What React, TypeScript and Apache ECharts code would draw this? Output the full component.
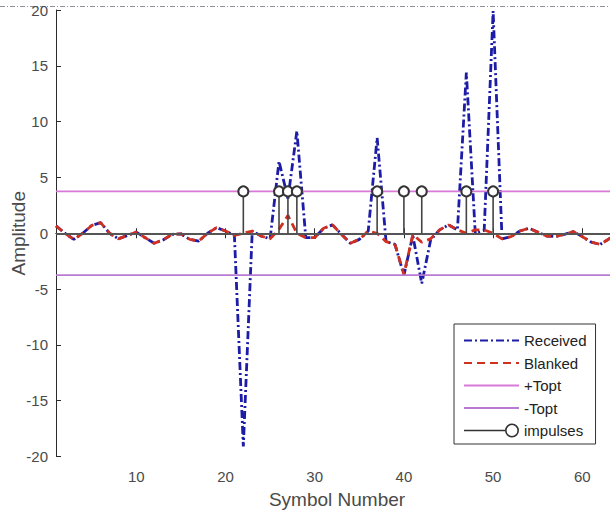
import React, { useEffect, useRef } from "react";
import * as echarts from "echarts";

// Symbol numbers 1..64
const symbolNumbers = [
  1, 2, 3, 4, 5, 6, 7, 8, 9, 10, 11, 12, 13, 14, 15, 16, 17, 18, 19, 20, 21, 22,
  23, 24, 25, 26, 27, 28, 29, 30, 31, 32, 33, 34, 35, 36, 37, 38, 39, 40, 41, 42,
  43, 44, 45, 46, 47, 48, 49, 50, 51, 52, 53, 54, 55, 56, 57, 58, 59, 60, 61, 62,
  63, 64,
];

const received = [
  0.66, 0.0, -0.55, 0.0, 0.7, 0.95, 0.0, -0.5, -0.2, 0.1, -0.4, -0.9, -0.6, -0.1,
  -0.05, -0.55, -0.7, 0.0, 0.5, 0.2, -0.2, -19.1, 0.2, -0.25, -0.5, 6.45, 3.1,
  9.15, -0.4, -0.4, 0.45, 0.75, -0.1, -0.9, -0.55, 0.2, 8.55, -0.75, -1.0, -3.75,
  -0.2, -4.5, -0.6, 0.3, 0.75, 0.3, 14.4, 0.0, 0.25, 19.9, -0.5, -0.3, 0.2, 0.45,
  0.1, -0.25, -0.3, -0.1, 0.15, -0.3, -0.8, -1.0, -0.5, -0.1,
];

const blanked = [
  0.66, 0.0, -0.55, 0.0, 0.7, 0.95, 0.0, -0.5, -0.2, 0.1, -0.4, -0.9, -0.6, -0.1,
  -0.05, -0.55, -0.7, 0.0, 0.5, 0.2, -0.2, 0.0, 0.2, -0.25, -0.5, 0.35, 1.6, 0.0,
  -0.4, -0.4, 0.45, 0.75, -0.1, -0.9, -0.55, 0.2, 0.0, -0.75, -1.0, -3.7, -0.1,
  -0.8, -0.5, 0.3, 0.75, 0.3, 0.0, 0.3, 0.3, 0.0, -0.5, -0.3, 0.2, 0.45, 0.1,
  -0.25, -0.3, -0.1, 0.15, -0.3, -0.8, -1.0, -0.5, -0.1,
];

const impulsePositions = [22, 26, 27, 28, 37, 40, 42, 47, 50];
const toptValue = 3.75;
const xTickValues = [10, 20, 30, 40, 50, 60];
const xRange = [1, 64];
const yRange = [-20, 20];

// legend icon for the stem entry: a line ending in an open circle (55 x 14 box)
const stemLegendIcon =
  "path://M0,6.3H41.2V7.7H0Z" +
  "M41,7A7,7 0 0,1 55,7A7,7 0 0,1 41,7Z" +
  "M42.6,7A5.4,5.4 0 0,0 53.4,7A5.4,5.4 0 0,0 42.6,7Z";

export default function App() {
  const ref = useRef<HTMLDivElement>(null);

  useEffect(() => {
    if (!ref.current) return;
    const chart = echarts.init(ref.current, undefined, { renderer: "svg" });

    const impulseData: any[] = [];
    impulsePositions.forEach((p) => {
      impulseData.push({ value: [p, 0], symbol: "none" });
      impulseData.push({ value: [p, toptValue] });
      impulseData.push("-");
    });

    const axisColor = "#2b2b2b";
    const labelColor = "#4a4a4a";
    const font = "Liberation Sans, Arial, sans-serif";
    const hiddenSymbol = { opacity: 0 };

    chart.setOption({
      animation: false,
      backgroundColor: "#ffffff",
      textStyle: { fontFamily: font },
      grid: {
        left: 56,
        top: 10,
        width: 562,
        height: 446.5,
        containLabel: false,
        outerBoundsMode: "none",
      },
      legend: {
        orient: "vertical",
        left: 454,
        top: 324,
        itemWidth: 55,
        itemHeight: 14,
        itemGap: 7.5,
        padding: [9, 9, 6, 9],
        borderColor: "#333333",
        borderWidth: 1,
        backgroundColor: "#ffffff",
        borderRadius: 0,
        textStyle: { fontSize: 15, color: "#222222", fontFamily: font },
        data: [
          { name: "Received", itemStyle: hiddenSymbol },
          { name: "Blanked", itemStyle: hiddenSymbol },
          { name: "+Topt", itemStyle: hiddenSymbol },
          { name: "-Topt", itemStyle: hiddenSymbol },
          {
            name: "impulses",
            icon: stemLegendIcon,
            itemStyle: { color: "#333333", borderWidth: 0 },
          },
        ],
      },
      xAxis: [
        {
          type: "value",
          min: xRange[0],
          max: xRange[1],
          position: "bottom",
          name: "Symbol Number",
          nameLocation: "middle",
          nameGap: 33,
          nameTextStyle: { fontSize: 19, color: labelColor, fontFamily: font },
          axisLine: { show: true, lineStyle: { color: axisColor, width: 1 } },
          axisTick: {
            show: true,
            inside: true,
            length: 5,
            customValues: xTickValues,
            lineStyle: { color: axisColor },
          },
          axisLabel: {
            show: true,
            customValues: xTickValues,
            margin: 12,
            fontSize: 15,
            color: labelColor,
            fontFamily: font,
          },
          splitLine: { show: false },
        },
        {
          type: "value",
          min: xRange[0],
          max: xRange[1],
          position: "top",
          axisLine: { show: true, lineStyle: { color: axisColor, width: 1 } },
          axisTick: {
            show: true,
            inside: true,
            length: 5,
            customValues: xTickValues,
            lineStyle: { color: axisColor },
          },
          axisLabel: { show: false },
          splitLine: { show: false },
        },
      ],
      yAxis: [
        {
          type: "value",
          min: yRange[0],
          max: yRange[1],
          interval: 5,
          position: "left",
          name: "Amplitude",
          nameLocation: "middle",
          nameGap: 28,
          nameMoveOverlap: false,
          nameTextStyle: { fontSize: 19, color: labelColor, fontFamily: font },
          axisLine: { show: true, lineStyle: { color: axisColor, width: 1 } },
          axisTick: { show: true, inside: true, length: 5, lineStyle: { color: axisColor } },
          axisLabel: { margin: 8, fontSize: 15, color: labelColor, fontFamily: font },
          splitLine: { show: false },
        },
        {
          type: "value",
          min: yRange[0],
          max: yRange[1],
          interval: 5,
          position: "right",
          axisLine: { show: true, lineStyle: { color: axisColor, width: 1 } },
          axisTick: { show: true, inside: true, length: 5 },
          axisLabel: { show: false },
          splitLine: { show: false },
        },
      ],
      series: [
        {
          name: "Received",
          type: "line",
          xAxisIndex: 0,
          yAxisIndex: 0,
          data: symbolNumbers.map((n, i) => [n, received[i]]),
          symbol: "none",
          itemStyle: { color: "#1c1ca6" },
          lineStyle: { color: "#1c1ca6", width: 2.8, type: [8, 3, 2, 3] },
          z: 3,
        },
        {
          name: "Blanked",
          type: "line",
          data: symbolNumbers.map((n, i) => [n, blanked[i]]),
          symbol: "none",
          itemStyle: { color: "#d0301f" },
          lineStyle: { color: "#d0301f", width: 2.8, type: [8, 5] },
          z: 4,
        },
        {
          name: "+Topt",
          type: "line",
          data: [
            [xRange[0], toptValue],
            [xRange[1], toptValue],
          ],
          symbol: "none",
          itemStyle: { color: "#d77ad7" },
          lineStyle: { color: "#d77ad7", width: 1.6 },
          z: 5,
        },
        {
          name: "-Topt",
          type: "line",
          data: [
            [xRange[0], -toptValue],
            [xRange[1], -toptValue],
          ],
          symbol: "none",
          itemStyle: { color: "#b87ad2" },
          lineStyle: { color: "#b87ad2", width: 1.6 },
          z: 5,
        },
        {
          name: "impulses",
          type: "line",
          data: impulseData,
          connectNulls: false,
          symbol: "emptyCircle",
          symbolSize: 10,
          itemStyle: { color: "#333333", borderWidth: 1.5 },
          lineStyle: { color: "#444444", width: 1.6 },
          z: 6,
          markLine: {
            silent: true,
            symbol: "none",
            label: { show: false },
            lineStyle: { color: "#555555", width: 2, type: "solid" },
            data: [{ yAxis: 0 }],
          },
        },
      ],
      graphic: [
        {
          type: "line",
          shape: { x1: 0, y1: 6.5, x2: 610, y2: 6.5 },
          style: { stroke: "#8f8f9a", lineWidth: 1, lineDash: [5, 2, 1, 2] },
          silent: true,
        },
      ],
    });

    return () => chart.dispose();
  }, []);

  return (
    <div
      style={{
        position: "absolute",
        left: 0,
        top: 0,
        width: 610,
        height: 516,
        overflow: "hidden",
        background: "#fff",
      }}
    >
      <div ref={ref} style={{ width: 640, height: 516 }} />
    </div>
  );
}
